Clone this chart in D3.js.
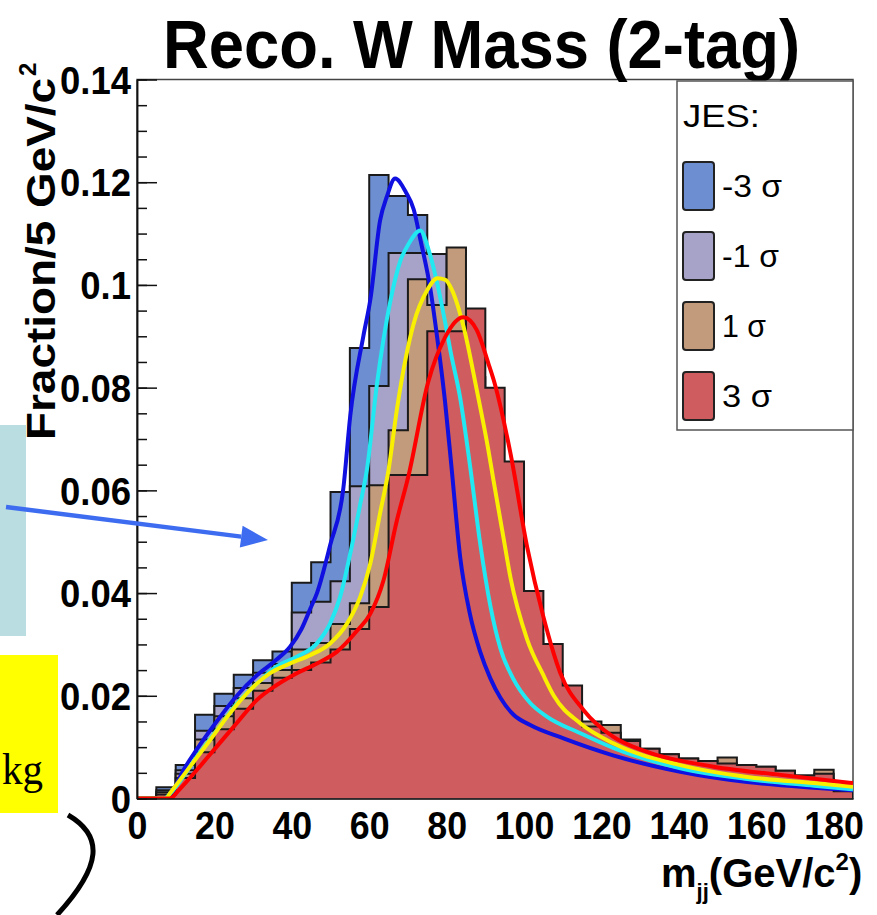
<!DOCTYPE html>
<html><head><meta charset="utf-8">
<script src="https://cdn.jsdelivr.net/npm/d3@7"></script>
<style>body{margin:0;background:#fff}svg{display:block}</style>
</head><body>
<svg id="c" width="877" height="915"></svg>
<script>
// ---------- data ----------
const binLow = [0,5,10,15,20,25,30,35,40,45,50,55,60,65,70,75,80,85,90,95,100,105,110,115,120,125,130,135,140,145,150,155,160,165,170,175,180];
const binWidth = 5;
const seriesNames = ["-3 σ", "-1 σ", "1 σ", "3 σ"];
const histM3 = [0.0003,0.0022,0.0065,0.0163,0.0204,0.0241,0.0269,0.0286,0.0420,0.0460,0.0597,0.0877,0.1214,0.1173,0.1136,0.0880,0.0580,0.0330,0.0210,0.0165,0.0140,0.0120,0.0105,0.0095,0.0085,0.0075,0.0066,0.0060,0.0055,0.0050,0.0045,0.0040,0.0036,0.0032,0.0028,0.0025,0.0012];
const histM1 = [0.0002,0.0016,0.0055,0.0132,0.0180,0.0215,0.0245,0.0262,0.0362,0.0383,0.0423,0.0608,0.0803,0.1062,0.1062,0.1060,0.0800,0.0600,0.0400,0.0280,0.0210,0.0170,0.0140,0.0120,0.0110,0.0095,0.0085,0.0076,0.0068,0.0062,0.0058,0.0054,0.0050,0.0046,0.0042,0.0038,0.0010];
const histP1 = [0.0001,0.0012,0.0048,0.0115,0.0160,0.0195,0.0225,0.0250,0.0290,0.0303,0.0340,0.0380,0.0610,0.0717,0.1011,0.0961,0.1073,0.0820,0.0600,0.0450,0.0320,0.0240,0.0190,0.0150,0.0143,0.0115,0.0097,0.0086,0.0078,0.0073,0.0080,0.0065,0.0062,0.0054,0.0045,0.0056,0.0012];
const histP3 = [0.0000,0.0008,0.0040,0.0090,0.0135,0.0175,0.0210,0.0235,0.0250,0.0265,0.0290,0.0330,0.0373,0.0630,0.0630,0.0910,0.0910,0.0954,0.0800,0.0656,0.0404,0.0301,0.0220,0.0140,0.0128,0.0112,0.0097,0.0086,0.0078,0.0073,0.0068,0.0065,0.0062,0.0054,0.0045,0.0048,0.0014];

const fitM3X = [0,7,9.5,12,15.4,20.6,25.8,31,36,39.6,42.5,44.8,46.5,49.9,53.3,55.1,58.5,60.3,62.8,64.6,66.7,69.5,71.5,73.2,75.8,77.5,79.6,81.2,83.5,86,88.7,91.3,93.9,97.3,101.6,110.2,123,140.4,157.7,174.9,185];
const fitM3Y = [0,0,0.0018,0.0055,0.0095,0.0150,0.0200,0.0240,0.0270,0.0296,0.0330,0.0370,0.0400,0.0493,0.0603,0.0745,0.0901,0.0972,0.1125,0.1173,0.1207,0.1180,0.1147,0.1089,0.0992,0.0901,0.0772,0.0650,0.0470,0.0360,0.0285,0.0234,0.0196,0.0163,0.0143,0.0117,0.0084,0.0052,0.0032,0.0021,0.0016];
const fitM1X = [0,7,9.4,15.4,20.6,25.8,31,36.1,41.3,46.5,49.9,52.5,55.1,57.7,59.4,62,65.5,68.1,70.2,73.2,75.4,77.6,79.7,81,83.5,86.1,88.7,91.3,93.9,97.3,101.6,106,114.6,123.2,140.4,157.7,174.9,185];
const fitM1Y = [0,0,0.0017,0.0081,0.0133,0.0185,0.0224,0.0257,0.0276,0.0302,0.0341,0.0393,0.0477,0.0574,0.0640,0.0807,0.0970,0.1048,0.1080,0.1106,0.1067,0.1002,0.0924,0.0871,0.0780,0.0645,0.0495,0.0375,0.0292,0.0232,0.0186,0.0159,0.0127,0.0098,0.0059,0.0038,0.0025,0.0018];
const fitP1X = [0,7.5,8.5,13.7,18.9,24,29.2,34.4,39.6,44.7,49.9,54.3,57.7,60.3,62.8,65,67.2,69.5,71.5,75,77.6,79.7,81.4,84.4,87.8,90.8,92.1,94.8,96.5,100.8,105,107.7,114.6,123.2,140.4,157.7,174.9,185];
const fitP1Y = [0,0,0.0010,0.0062,0.0114,0.0166,0.0211,0.0244,0.0263,0.0279,0.0302,0.0341,0.0393,0.0458,0.0555,0.0640,0.0760,0.0860,0.0925,0.0990,0.1013,0.1010,0.0990,0.0918,0.0795,0.0678,0.0620,0.0503,0.0430,0.0310,0.0240,0.0200,0.0146,0.0107,0.0065,0.0042,0.0030,0.0023];
const fitP3X = [0,8.5,11,15.4,20.6,25.8,31,36.1,41.3,46.5,51.7,56.9,60.3,63.7,67.1,70.2,75.2,79.6,84.3,87.8,90.8,92.2,96.5,100.8,105,109.4,115.4,123.1,131.8,149,166.3,185];
const fitP3Y = [0,0,0.0018,0.0055,0.0101,0.0147,0.0192,0.0221,0.0244,0.0263,0.0286,0.0327,0.0360,0.0425,0.0540,0.0630,0.0810,0.0898,0.0937,0.0912,0.0847,0.0814,0.0672,0.0490,0.0354,0.0244,0.0172,0.0120,0.0091,0.0062,0.0046,0.0030];

const yTickValues = [0,0.02,0.04,0.06,0.08,0.1,0.12,0.14];
const yTickLabels = ["0","0.02","0.04","0.06","0.08","0.1","0.12","0.14"];
const xTickValues = [0,20,40,60,80,100,120,140,160,180];
const xTickLabels = ["0","20","40","60","80","100","120","140","160","180"];

// ---------- setup ----------
const svg = d3.select("#c");
svg.append("rect").attr("width",877).attr("height",915).attr("fill","#fff");
const L=137, R=853, T=79.5, B=798.5;
const x = d3.scaleLinear().domain([0,185]).range([L,R]);
const y = d3.scaleLinear().domain([0,0.14]).range([B,T]);
const fillCols = ["#6d8fd1","#a7a2c7","#c19b7b","#cf5c5f"];
const lineCols = ["#1010e0","#22e8f2","#f8f000","#ff0000"];
const hists = [histM3,histM1,histP1,histP3];
const fitsX = [fitM3X,fitM1X,fitP1X,fitP3X];
const fitsY = [fitM3Y,fitM1Y,fitP1Y,fitP3Y];
const font = "'Liberation Sans', Arial, Helvetica, sans-serif";

function fitText(sel, w){ sel.attr("textLength", w).attr("lengthAdjust","spacingAndGlyphs"); }

// ---------- slide decorations (left) ----------
svg.append("rect").attr("x",0).attr("y",425).attr("width",26).attr("height",211).attr("fill","#b9dde0");
svg.append("rect").attr("x",0).attr("y",655).attr("width",58).attr("height",158).attr("fill","#ffff00");
const kg = svg.append("text").attr("x",2).attr("y",784)
  .attr("font-family","'Liberation Serif','Times New Roman',serif").attr("font-size",44).attr("fill","#000").text("kg");
fitText(kg,41);
svg.append("path").attr("d","M68,815 C104,836 102,866 57,915").attr("fill","none").attr("stroke","#000").attr("stroke-width",5);

// ---------- frame ----------
svg.append("rect").attr("x",L).attr("y",T).attr("width",R-L).attr("height",B-T)
  .attr("fill","#fff").attr("stroke","#444").attr("stroke-width",1.5);

svg.append("clipPath").attr("id","pc").append("rect")
  .attr("x",L).attr("y",T).attr("width",R-L).attr("height",B-T);
const plot = svg.append("g").attr("clip-path","url(#pc)");

// histograms
hists.forEach((h,k)=>{
  const pts = [[x(0),y(0)]];
  h.forEach((v,i)=>{ pts.push([x(binLow[i]),y(v)]); pts.push([x(binLow[i]+binWidth),y(v)]); });
  pts.push([x(binLow[binLow.length-1]+binWidth),y(0)]);
  const line = d3.line();
  plot.append("path").attr("d", line(pts)+"Z").attr("fill",fillCols[k]).attr("stroke","none");
  plot.append("path").attr("d", line(pts)).attr("fill","none").attr("stroke","#1a1a1a").attr("stroke-width",2);
});
// fit curves
fitsX.forEach((fx,k)=>{
  const data = fx.map((xv,i)=>[xv,fitsY[k][i]]);
  const line = d3.line().x(d=>x(d[0])).y(d=>y(d[1])).curve(d3.curveMonotoneX);
  plot.append("path").attr("d",line(data)).attr("fill","none").attr("stroke",lineCols[k])
    .attr("stroke-width",4).attr("stroke-linejoin","round");
});

// ---------- axes ----------
const yMajor = d3.axisLeft(y).tickValues(yTickValues).tickSize(-20).tickSizeOuter(0).tickPadding(6)
  .tickFormat((d,i)=>yTickLabels[i]);
const yMinor = d3.axisLeft(y).tickValues(d3.range(0,0.1401,0.005)).tickSize(-10).tickSizeOuter(0).tickFormat("");
const gyMinor = svg.append("g").attr("transform",`translate(${L},0)`).call(yMinor);
const gy = svg.append("g").attr("transform",`translate(${L},0)`).call(yMajor);
[gy,gyMinor].forEach(g=>{ g.selectAll("line").attr("stroke","#111").attr("stroke-width",1.5); g.select(".domain").attr("stroke","#111").attr("stroke-width",1.5); });
gy.selectAll("text").attr("font-family",font).attr("font-weight","bold").attr("font-size",38).attr("fill","#000").attr("dy","0.36em")
  .each(function(){ const w=this.getComputedTextLength(); d3.select(this).attr("textLength",w*0.96).attr("lengthAdjust","spacingAndGlyphs"); });

const xAx = d3.axisBottom(x).tickValues(xTickValues).tickSize(0).tickSizeOuter(0).tickPadding(14)
  .tickFormat((d,i)=>xTickLabels[i]);
const gx = svg.append("g").attr("transform",`translate(0,${B})`).call(xAx);
gx.select(".domain").attr("stroke","#111").attr("stroke-width",1.5);
gx.selectAll("text").attr("font-family",font).attr("font-weight","bold").attr("font-size",38).attr("fill","#000")
  .each(function(){ const w=this.getComputedTextLength(); d3.select(this).attr("textLength",w*0.94).attr("lengthAdjust","spacingAndGlyphs"); });

// ---------- titles ----------
const title = svg.append("text").attr("x",163).attr("y",68).attr("font-family",font).attr("font-weight","bold")
  .attr("font-size",68).attr("fill","#000").text("Reco. W Mass (2-tag)");
fitText(title,637);

const yt = svg.append("text").attr("transform","translate(55,440) rotate(-90)").attr("font-family",font)
  .attr("font-weight","bold").attr("font-size",41).attr("fill","#000");
const ytMain = yt.append("tspan").text("Fraction/5 GeV/c");
fitText(ytMain,362);
yt.append("tspan").attr("font-size",24).attr("dx",2).attr("dy",-19).text("2");

const xt = svg.append("text").attr("x",661).attr("y",887).attr("font-family",font)
  .attr("font-weight","bold").attr("font-size",40).attr("fill","#000");
xt.append("tspan").text("m");
xt.append("tspan").attr("font-size",22).attr("dy",12).text("jj");
xt.append("tspan").attr("dy",-12).text("(GeV/c");
xt.append("tspan").attr("font-size",24).attr("dy",-17).text("2");
xt.append("tspan").attr("dy",17).text(")");

// ---------- legend ----------
svg.append("rect").attr("x",677).attr("y",81).attr("width",176).attr("height",349)
  .attr("fill","#fff").attr("stroke","#555").attr("stroke-width",1.5);
const jes = svg.append("text").attr("x",683).attr("y",127).attr("font-family",font).attr("font-size",31).attr("fill","#000").text("JES:");
fitText(jes,77);
const legW = [60,57,44,50];
seriesNames.forEach((n,i)=>{
  const y0 = 162 + i*70;
  svg.append("rect").attr("x",683).attr("y",y0).attr("width",31).attr("height",48).attr("rx",3)
    .attr("fill",fillCols[i]).attr("stroke","#222").attr("stroke-width",2);
  const t = svg.append("text").attr("x",722).attr("y",y0+35).attr("font-family",font).attr("font-size",31).attr("fill","#000").text(n);
  fitText(t,legW[i]);
});

// ---------- arrow ----------
const ax0=[6,507], ax1=[268,540];
const ang = Math.atan2(ax1[1]-ax0[1], ax1[0]-ax0[0]);
const hl=27, hw=11;
const bx = ax1[0]-hl*Math.cos(ang), by = ax1[1]-hl*Math.sin(ang);
svg.append("line").attr("x1",ax0[0]).attr("y1",ax0[1]).attr("x2",bx).attr("y2",by).attr("stroke","#3d6cf0").attr("stroke-width",4.5);
svg.append("polygon").attr("points",[
  [ax1[0],ax1[1]],
  [bx+hw*Math.sin(ang), by-hw*Math.cos(ang)],
  [bx-hw*Math.sin(ang), by+hw*Math.cos(ang)]].map(p=>p.join(",")).join(" ")).attr("fill","#3d6cf0");
</script>
</body></html>
